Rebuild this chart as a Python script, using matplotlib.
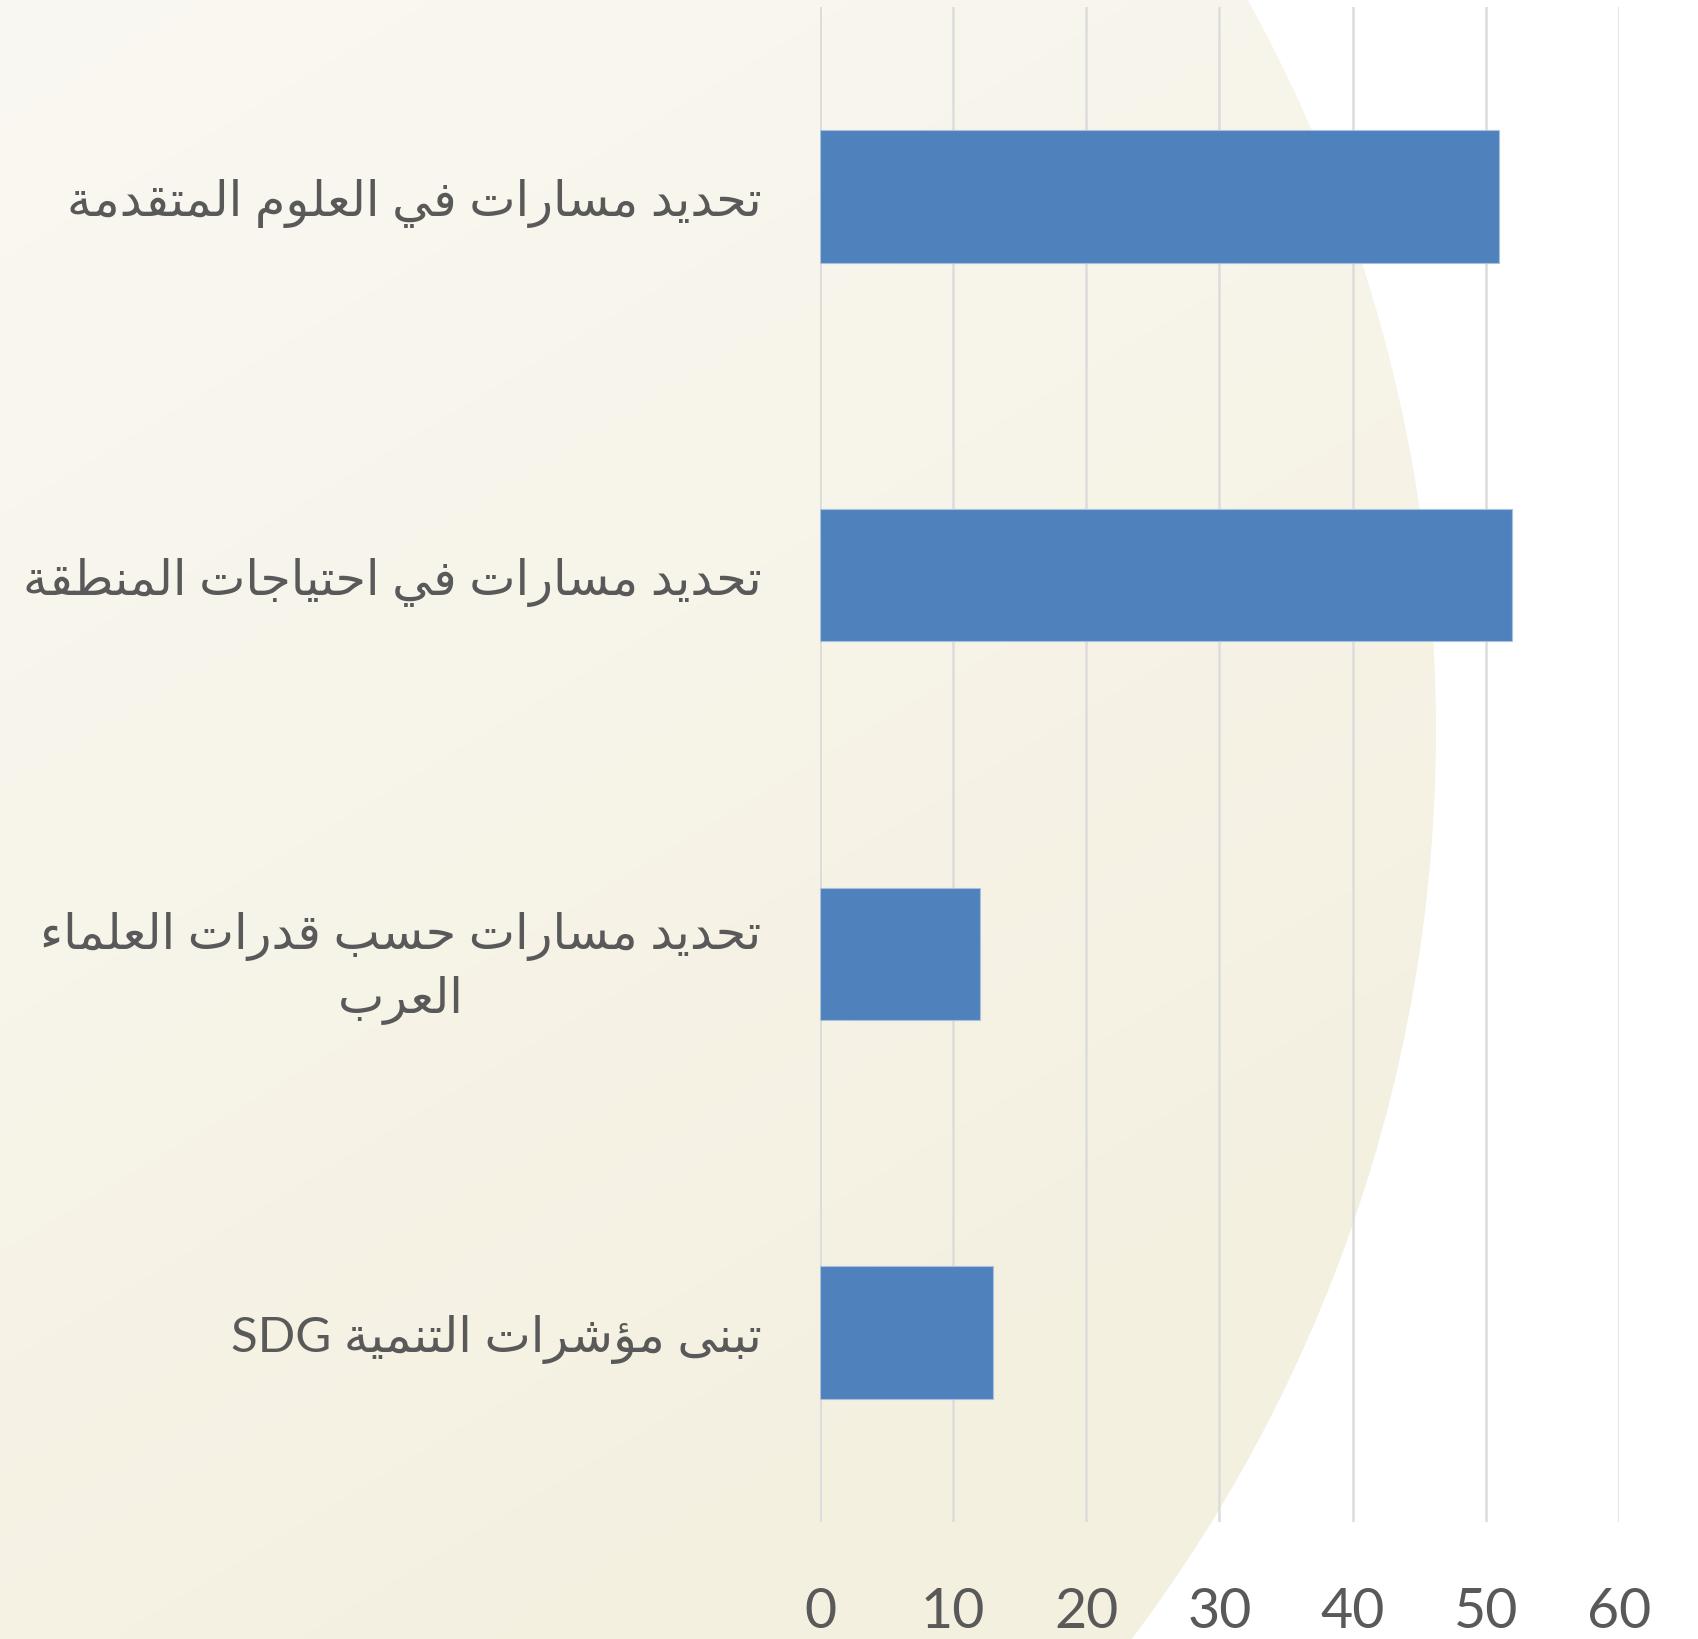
import numpy as np
import matplotlib
matplotlib.use('Agg')
import matplotlib.pyplot as plt
from matplotlib.patches import Circle
from matplotlib import font_manager

# data
categories = ['تحديد مسارات في العلوم المتقدمة',
              'تحديد مسارات في احتياجات المنطقة',
              'تحديد مسارات حسب قدرات العلماء\nالعرب',
              'تبنى مؤشرات التنمية SDG']
values = [51, 52, 12, 13]
xticks = [0, 10, 20, 30, 40, 50, 60]

# arabic shaping by hand, matplotlib does no shaping / bidi
# (isolated, final, initial, medial)
FORMS = {
    'ء': ('\uFE80', None, None, None),
    'ؤ': ('\uFE85', '\uFE86', None, None),
    'ا': ('\uFE8D', '\uFE8E', None, None),
    'ب': ('\uFE8F', '\uFE90', '\uFE91', '\uFE92'),
    'ة': ('\uFE93', '\uFE94', None, None),
    'ت': ('\uFE95', '\uFE96', '\uFE97', '\uFE98'),
    'ج': ('\uFE9D', '\uFE9E', '\uFE9F', '\uFEA0'),
    'ح': ('\uFEA1', '\uFEA2', '\uFEA3', '\uFEA4'),
    'د': ('\uFEA9', '\uFEAA', None, None),
    'ر': ('\uFEAD', '\uFEAE', None, None),
    'س': ('\uFEB1', '\uFEB2', '\uFEB3', '\uFEB4'),
    'ش': ('\uFEB5', '\uFEB6', '\uFEB7', '\uFEB8'),
    'ط': ('\uFEC1', '\uFEC2', '\uFEC3', '\uFEC4'),
    'ع': ('\uFEC9', '\uFECA', '\uFECB', '\uFECC'),
    'ف': ('\uFED1', '\uFED2', '\uFED3', '\uFED4'),
    'ق': ('\uFED5', '\uFED6', '\uFED7', '\uFED8'),
    'ل': ('\uFEDD', '\uFEDE', '\uFEDF', '\uFEE0'),
    'م': ('\uFEE1', '\uFEE2', '\uFEE3', '\uFEE4'),
    'ن': ('\uFEE5', '\uFEE6', '\uFEE7', '\uFEE8'),
    'و': ('\uFEED', '\uFEEE', None, None),
    'ى': ('\uFEEF', '\uFEF0', None, None),
    'ي': ('\uFEF1', '\uFEF2', '\uFEF3', '\uFEF4'),
}

def joins_next(c):
    return c in FORMS and FORMS[c][2] is not None

def joins_prev(c):
    return c in FORMS and FORMS[c][1] is not None

def shape_line(s):
    out = []
    for i, c in enumerate(s):
        if c not in FORMS:
            out.append(c)
            continue
        p = i > 0 and joins_next(s[i-1]) and joins_prev(c)
        n = i < len(s)-1 and joins_next(c) and joins_prev(s[i+1])
        iso, fin, ini, med = FORMS[c]
        if p and n:
            out.append(med)
        elif p:
            out.append(fin)
        elif n:
            out.append(ini)
        else:
            out.append(iso)
    # visual order: reverse, keep latin runs as they are
    vis = ''.join(out)[::-1]
    res, run = '', ''
    for c in vis:
        if c.isascii() and c.isalnum():
            run += c
        else:
            res += run[::-1] + c
            run = ''
    return res + run[::-1]

def shape(s):
    return '\n'.join(shape_line(l) for l in s.split('\n'))

names = set(f.name for f in font_manager.fontManager.ttflist)
num_font = 'Liberation Sans Narrow' if 'Liberation Sans Narrow' in names else 'Lato'

W, H = 1699, 1640
fig = plt.figure(figsize=(W/100, H/100), dpi=100, facecolor='white')

# background: big beige circle with soft gradient
bg = fig.add_axes([0, 0, 1, 1], zorder=-1)
bg.set_xlim(0, W)
bg.set_ylim(H, 0)
bg.axis('off')
gy, gx = np.mgrid[0:1:200j, 0:1:200j]
t = np.clip((gx*0.5 + gy*0.8) / 1.0, 0, 1)[..., None]
c0 = np.array([250, 248, 242]) / 255
c1 = np.array([244, 240, 224]) / 255
img = c0*(1-t) + c1*t
circ = Circle((-74, 731), 1510, transform=bg.transData, facecolor='none', edgecolor='none')
bg.add_patch(circ)
im = bg.imshow(img, extent=(0, W, H, 0), aspect='auto', interpolation='bilinear')
im.set_clip_path(circ)

ax = fig.add_axes([820/W, 1-1523/H, 799/W, 1515/H])
ax.patch.set_alpha(0)
ypos = np.arange(len(categories))
ax.barh(ypos, values, height=0.35, color='#4f81bd', edgecolor='#a9c1e0', linewidth=0.8, zorder=3)
ax.set_xlim(0, 60)
ax.set_ylim(len(categories)-0.5, -0.5)
ax.set_xticks(xticks)
ax.set_xticklabels([str(v) for v in xticks], fontsize=40, color='#595959', family=num_font)
ax.grid(axis='x', color='#dcdcdc', linewidth=1.8, zorder=0)
ax.axvline(0, color='#dcdcdc', linewidth=1.8, zorder=1)
for s in ax.spines.values():
    s.set_visible(False)
ax.tick_params(axis='both', length=0)
ax.tick_params(axis='x', pad=46)
ax.tick_params(axis='y', pad=42)
ax.set_yticks(ypos)
labels = ax.set_yticklabels([shape(c) for c in categories], fontsize=35.5, color='#595959',
                            family=[num_font, 'DejaVu Sans'])
for lb in labels:
    lb.set_multialignment('center')
    lb.set_linespacing(1.4)

fig.savefig('out.png', dpi=100, facecolor='white')
